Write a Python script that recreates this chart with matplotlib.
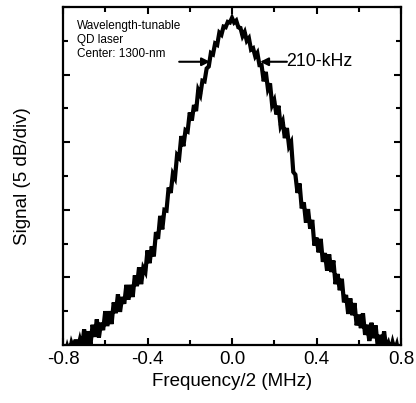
import numpy as np
import matplotlib
matplotlib.use("Agg")
import matplotlib.pyplot as plt
from matplotlib.ticker import MultipleLocator

plt.rcParams['font.family'] = ['Liberation Sans', 'DejaVu Sans']

# Frequency/2 (MHz), 0.01 MHz steps from -0.8 to 0.8
freq = [round(-0.80 + 0.01 * i, 2) for i in range(161)]
# Signal (dB; 5 dB/div)
signal_left = [
    -50.3, -51.4, -50.2, -51.2, -49.7, -50.6, -49.2, -50.5, -49.2, -50.4,
    -47.7, -50.1, -48.0, -50.0, -47.0, -48.8, -46.2, -48.9, -46.7, -47.8,
    -45.0, -47.2, -45.0, -46.9, -43.7, -45.3, -42.5, -45.1, -42.9, -43.9,
    -41.1, -43.3, -41.1, -42.9, -39.7, -41.3, -38.5, -41.0, -38.6, -39.2,
    -36.0, -37.9, -35.4, -36.9, -33.3, -34.3, -30.9, -32.9, -30.0, -30.1,
    -26.7, -27.5, -24.7, -25.3, -21.9, -22.3, -19.1, -20.6, -18.2, -18.4,
    -15.6, -16.8, -14.5, -15.4, -12.3, -13.0, -10.9, -11.0, -9.1, -8.8,
    -6.8, -7.0, -5.4, -5.6, -3.8, -4.1, -2.9, -3.0, -2.2, -2.3,
    -1.6,
]
signal_right = [
    -2.3, -2.0, -3.0, -3.1, -4.3, -3.7, -5.0, -4.6, -6.3, -6.1,
    -7.3, -6.8, -8.6, -8.6, -11.0, -9.6, -12.1, -11.3, -14.5, -13.8,
    -15.9, -14.6, -17.6, -16.9, -19.4, -17.9, -20.6, -20.0, -24.4, -24.8,
    -27.5, -26.1, -29.8, -28.9, -31.9, -29.9, -32.8, -31.5, -35.3, -34.1,
    -36.3, -34.3, -37.7, -36.4, -39.0, -36.6, -39.2, -37.5, -41.0, -39.5,
    -41.9, -40.2, -43.7, -42.6, -45.4, -43.1, -45.6, -43.8, -47.1, -45.5,
    -47.5, -45.3, -48.5, -47.0, -49.4, -46.7, -49.0, -47.1, -50.3, -48.5,
    -50.3, -48.0, -50.4, -49.7, -50.9, -49.6, -50.8, -49.9, -51.5, -50.7,
]
signal = signal_left + signal_right

xticks = [-0.8, -0.4, 0.0, 0.4, 0.8]
xticklabels = ["-0.8", "-0.4", "0.0", "0.4", "0.8"]
info_lines = ["Wavelength-tunable", "QD laser", "Center: 1300-nm"]
width_label = "210-kHz"

fig = plt.figure(figsize=(4.16, 4.03), dpi=100)
ax = fig.add_axes([63/416, 1 - 345/403, (401-63)/416, (345-7)/403])

ax.plot(freq, signal, color='black', lw=3.0, solid_joinstyle='miter')

ax.set_xlim(-0.8, 0.8)
ax.set_ylim(-50, 0)
ax.set_xticks(xticks)
ax.set_xticklabels(xticklabels)
ax.xaxis.set_minor_locator(MultipleLocator(0.2))
ax.yaxis.set_major_locator(MultipleLocator(10))
ax.yaxis.set_minor_locator(MultipleLocator(5))
ax.set_yticklabels([])
ax.tick_params(which='both', direction='in', top=True, right=True, width=1.5)
ax.tick_params(which='major', length=5, labelsize=13.5, pad=4)
ax.tick_params(which='minor', length=3.5)
for s in ax.spines.values():
    s.set_linewidth(1.6)

ax.set_xlabel("Frequency/2 (MHz)", fontsize=13.5, labelpad=4)
ax.set_ylabel("Signal (5 dB/div)", fontsize=13.5)
ax.yaxis.set_label_coords(-0.095, 0.5)

for i, t in enumerate(info_lines):
    ax.text(0.04, 0.962 - i * 0.0414, t, transform=ax.transAxes,
            fontsize=8.5, va='top', ha='left')

ax.annotate("", xy=(-0.104, -8.1), xytext=(-0.25, -8.1),
            arrowprops=dict(arrowstyle='-|>', color='black', lw=1.5,
                            mutation_scale=12, shrinkA=0, shrinkB=0))
ax.annotate("", xy=(0.133, -8.1), xytext=(0.26, -8.1),
            arrowprops=dict(arrowstyle='-|>', color='black', lw=1.5,
                            mutation_scale=12, shrinkA=0, shrinkB=0))
ax.text(0.255, -8.1, width_label, fontsize=12.8, va='center', ha='left')

fig.savefig("out.png", dpi=100)
